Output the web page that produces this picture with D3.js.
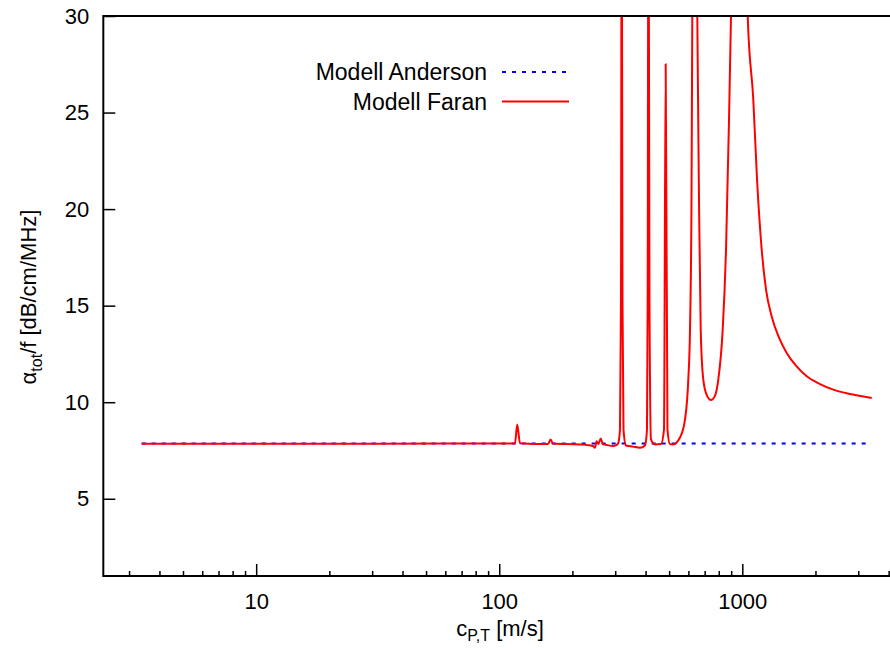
<!DOCTYPE html>
<html>
<head>
<meta charset="utf-8">
<script src="https://cdn.jsdelivr.net/npm/d3@7"></script>
<style>
  body { margin: 0; background: #fff; }
  svg { display: block; font-family: "Liberation Sans", Arial, sans-serif; }
  .axes text { font-size: 22px; fill: #000; }
  .axes line { stroke: #000; stroke-width: 1.5; }
  .legend text { font-size: 23px; fill: #000; }
</style>
</head>
<body>
<div id="viz"></div>
<script>
/* ===== Data ===== */
// phase velocity c_P,T [m/s] and attenuation alpha_tot/f [dB/cm/MHz]
const andersonC = [3.38, 10, 100, 1000, 3408];
const andersonA = [7.86, 7.86, 7.86, 7.86, 7.86];

const faranC = [3.38, 15.1, 62.7, 108.6, 116.0, 118.6, 121.7, 158.6, 162.7, 166.3,
  214.9, 243.0, 247.6, 251.6, 255.9, 261.4, 267.1, 277.5, 296.5, 308,
  313.9, 316.9, 319.0, 321.4, 324.5, 332.2, 354.9, 379.3, 397.7, 405.3,
  408.0, 411.1, 415.0, 421, 437.3, 462.8, 476.2, 483.9, 492.2, 504.0,
  518.6, 554.0, 581, 599.5, 609.3, 618, 622.7, 635.9, 652.9, 663.5,
  674.3, 691.1, 715.7, 743.4, 772.1, 796.6, 830.5, 857.0, 881.7, 898.5,
  969.2, 1052.5, 1110, 1150, 1202, 1252, 1321, 1416, 1523, 1663,
  1841, 2088, 2369, 2775, 3408];
const faranA = [7.85, 7.85, 7.86, 7.86, 7.86, 8.84, 7.88, 7.83, 8.07, 7.86,
  7.81, 7.73, 7.64, 7.98, 7.83, 8.12, 7.83, 7.78, 7.73, 7.86,
  8.58, 15.31, 40, 15.31, 8.58, 7.76, 7.70, 7.64, 7.76, 8.58,
  15.31, 40, 15.31, 8.07, 7.81, 7.83, 8.58, 27.52, 8.58, 7.83,
  7.81, 8.17, 9.10, 11.17, 13.76, 20.48, 30, 45, 30, 20.48,
  13.76, 11.17, 10.34, 10.11, 10.34, 11.17, 13.76, 17.89, 24.62, 30,
  60, 30, 25.65, 21.52, 17.89, 15.83, 14.44, 13.34, 12.55, 11.89,
  11.34, 10.94, 10.65, 10.42, 10.22];

const yTicks = [5, 10, 15, 20, 25, 30];
const xMajor = [10, 100, 1000];
const xMinor = [3, 4, 5, 6, 7, 8, 9, 20, 30, 40, 50, 60, 70, 80, 90,
  200, 300, 400, 500, 600, 700, 800, 900, 2000, 3000, 4000];

const seriesNames = ['Modell Anderson', 'Modell Faran'];
const seriesColors = ['#0000ee', '#ff0000'];

/* ===== Chart dimension ===== */
const width = 890;
const height = 648;
const margin = { left: 103.3, right: 912.2, top: 16, bottom: 576 };

const svg = d3.select('#viz')
  .append('svg')
  .attr('width', width)
  .attr('height', height);

/* ===== Scales ===== */
const xScale = d3.scaleLog()
  .domain([2.35, 5000])
  .range([margin.left, margin.right]);

const yScale = d3.scaleLinear()
  .domain([1, 30])
  .range([margin.bottom, margin.top]);

/* ===== Axes ===== */
const xAxisMinor = d3.axisBottom(xScale)
  .tickValues(xMinor)
  .tickSize(-5)
  .tickSizeOuter(0)
  .tickFormat('');
const xAxisMajor = d3.axisBottom(xScale)
  .tickValues(xMajor)
  .tickSize(-12)
  .tickSizeOuter(0)
  .tickPadding(17)
  .tickFormat(d3.format('d'));
const yAxis = d3.axisLeft(yScale)
  .tickValues(yTicks)
  .tickSize(-12)
  .tickSizeOuter(0)
  .tickPadding(14);

svg.append('g').attr('class', 'axes')
  .attr('transform', `translate(0, ${margin.bottom})`)
  .call(xAxisMinor)
  .call(g => g.select('.domain').remove());
svg.append('g').attr('class', 'axes')
  .attr('transform', `translate(0, ${margin.bottom})`)
  .call(xAxisMajor)
  .call(g => g.select('.domain').remove());
svg.append('g').attr('class', 'axes')
  .attr('transform', `translate(${margin.left}, 0)`)
  .call(yAxis)
  .call(g => g.select('.domain').remove());

/* ===== Lines ===== */
svg.append('clipPath').attr('id', 'plotClip')
  .append('rect')
  .attr('x', margin.left).attr('y', margin.top)
  .attr('width', margin.right - margin.left)
  .attr('height', margin.bottom - margin.top);

const line = d3.line()
  .x(d => xScale(d[0]))
  .y(d => yScale(d[1]))
  .curve(d3.curveMonotoneX);

const plot = svg.append('g').attr('clip-path', 'url(#plotClip)');

plot.append('path')
  .datum(andersonC.map((c, i) => [c, andersonA[i]]))
  .attr('d', line)
  .attr('fill', 'none')
  .attr('stroke', seriesColors[0])
  .attr('stroke-width', 2)
  .attr('stroke-dasharray', '4,6');

plot.append('path')
  .datum(faranC.map((c, i) => [c, faranA[i]]))
  .attr('d', line)
  .attr('fill', 'none')
  .attr('stroke', seriesColors[1])
  .attr('stroke-width', 2)
  .attr('stroke-linejoin', 'round');

// frame: left, bottom and top (right side is cut off)
svg.append('path')
  .attr('d', `M${width + 30},${margin.top}H${margin.left}V${margin.bottom}H${width + 30}`)
  .attr('fill', 'none')
  .attr('stroke', '#000')
  .attr('stroke-width', 2);

/* ===== Legend ===== */
const legend = svg.append('g').attr('class', 'legend');
seriesNames.forEach(function (name, i) {
  const y = 72 + i * 29.5;
  legend.append('text')
    .attr('x', 487)
    .attr('y', y)
    .attr('dy', '0.35em')
    .attr('text-anchor', 'end')
    .text(name);
  legend.append('line')
    .attr('x1', 502).attr('x2', 569)
    .attr('y1', y).attr('y2', y)
    .attr('stroke', seriesColors[i])
    .attr('stroke-width', 2)
    .attr('stroke-dasharray', i === 0 ? '4,6' : null);
});

/* ===== Axis titles ===== */
const xTitle = svg.append('text')
  .attr('x', 500)
  .attr('y', 636)
  .attr('text-anchor', 'middle')
  .attr('font-size', 22);
xTitle.append('tspan').text('c');
xTitle.append('tspan').attr('dy', 5).attr('font-size', 16).text('P,T');
xTitle.append('tspan').attr('dy', -5).text(' [m/s]');

const yTitle = svg.append('text')
  .attr('transform', 'translate(36, 297) rotate(-90)')
  .attr('text-anchor', 'middle')
  .attr('font-size', 22);
yTitle.append('tspan').text('α');
yTitle.append('tspan').attr('dy', 6).attr('font-size', 16).text('tot');
yTitle.append('tspan').attr('dy', -6).text('/f [dB/cm/MHz]');
</script>
</body>
</html>
